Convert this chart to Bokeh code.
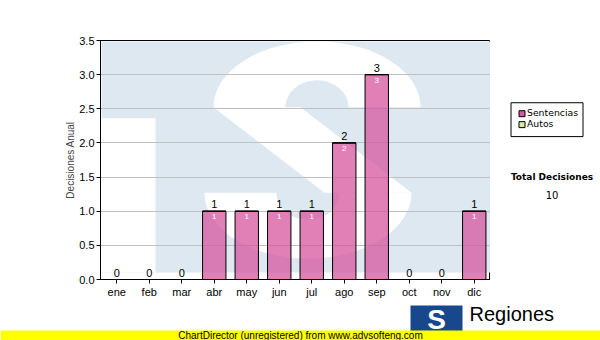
import numpy as np
from bokeh.plotting import figure
from bokeh.layouts import column, row
from bokeh.models import (FixedTicker, PrintfTickFormatter, ColumnDataSource, Range1d)
from bokeh.core.properties import value
from bokeh.embed import file_html
from bokeh.resources import INLINE

# ---- data ----
months = ["ene", "feb", "mar", "abr", "may", "jun", "jul", "ago", "sep", "oct", "nov", "dic"]
sentencias = [0, 0, 0, 1, 1, 1, 1, 2, 3, 0, 0, 1]
autos = [0, 0, 0, 0, 0, 0, 0, 0, 0, 0, 0, 0]
y_ticks = [0.0, 0.5, 1.0, 1.5, 2.0, 2.5, 3.0, 3.5]
series_names = ["Sentencias", "Autos"]
total_title = "Total Decisiones"
y_title = "Decisiones Anual"
footer = "ChartDirector (unregistered) from www.advsofteng.com"
brand = "Regiones"

ARIAL = "Liberation Sans"
VERD = "DejaVu Sans"
PINK = "#d6569f"
GREEN = "#d6eca4"
series_colors = [PINK, GREEN]

xs = list(range(len(months)))
totals = [s + a for s, a in zip(sentencias, autos)]
grand_total = sum(totals)

MAIN_H = 300
FR_TOP, FR_BOT = 40, 280
p = figure(width=490, height=MAIN_H, output_backend="svg", toolbar_location=None,
           x_range=(-0.5, len(months) - 0.5), y_range=(0, 3.5),
           min_border_left=100, min_border_right=0, min_border_top=FR_TOP,
           min_border_bottom=MAIN_H - FR_BOT, background_fill_color="white",
           border_fill_color="white")
p.outline_line_color = "black"
p.outline_line_width = 1

# ---- watermark logo (decoration, drawn under the grid) ----
YPX = 240 / 3.5
def dx(px):
    return (np.asarray(px, dtype=float) - 100) / 32.5 - 0.5
def dy(py):
    return (280 - np.asarray(py, dtype=float)) / YPX

WM_BLUE = "#dee8f1"
p.quad(left=[dx(101)], right=[dx(490)], top=[dy(41)], bottom=[dy(273)],
       fill_color=WM_BLUE, line_color=None, level="image")
p.quad(left=[dx(100)], right=[dx(155)], top=[dy(118)], bottom=[dy(273)],
       fill_color="white", line_color=None, level="image")
t1 = np.linspace(np.pi, 0, 48)
t2 = np.linspace(0, np.pi, 48)
arc_px = np.concatenate([316.5 + 103.5 * np.cos(t1), 316.5 + 31.5 * np.cos(t2)])
arc_py = np.concatenate([107 - 66 * np.sin(t1), 107 - 27 * np.sin(t2)])
spine_px = np.array([213, 300, 411, 324])
spine_py = np.array([107, 107, 193, 193])
shapes = [(arc_px, arc_py), (624 - arc_px, 300 - arc_py), (spine_px, spine_py)]
p.patches(xs=[list(dx(a)) for a, b in shapes], ys=[list(dy(b)) for a, b in shapes],
          fill_color="white", line_color=None, level="image")

# ---- bars ----
p.vbar(x=xs, top=sentencias, bottom=0, width=0.72, fill_color=PINK,
       fill_alpha=0.75, line_color="black", line_width=1)
p.vbar(x=xs, top=totals, bottom=sentencias, width=0.72, fill_color=GREEN,
       line_color="black", line_width=1)

# value labels
p.text(x=xs, y=totals, text=[str(v) for v in totals], text_align="center",
       text_baseline="bottom", y_offset=-3, text_font=value(ARIAL),
       text_font_size="11px", text_color="black")
inner = ColumnDataSource(dict(x=[x for x, v in zip(xs, sentencias) if v > 0],
                              y=[v for v in sentencias if v > 0],
                              t=[str(v) for v in sentencias if v > 0]))
p.text(x="x", y="y", text="t", source=inner, text_align="center",
       text_baseline="top", y_offset=3, text_font=value(ARIAL),
       text_font_size="8px", text_color="white")

# ---- axes / grid ----
p.xgrid.grid_line_color = None
p.ygrid.grid_line_color = "#c0c0c0"
p.ygrid.ticker = FixedTicker(ticks=y_ticks)

p.yaxis.ticker = FixedTicker(ticks=y_ticks)
p.yaxis.formatter = PrintfTickFormatter(format="%.1f")
p.xaxis.ticker = FixedTicker(ticks=xs)
p.xaxis.major_label_overrides = {i: m for i, m in enumerate(months)}
for ax in (p.xaxis, p.yaxis):
    ax.axis_line_color = "black"
    ax.major_tick_line_color = "black"
    ax.major_tick_out = 4
    ax.major_tick_in = 0
    ax.minor_tick_line_color = None
    ax.major_label_text_font = ARIAL
    ax.major_label_text_font_size = "11px"
    ax.major_label_text_color = "black"
p.yaxis.major_label_standoff = 2
p.xaxis.major_label_standoff = 2
p.yaxis.axis_label = y_title
p.yaxis.axis_label_text_font = ARIAL
p.yaxis.axis_label_text_font_size = "10px"
p.yaxis.axis_label_text_font_style = "normal"
p.yaxis.axis_label_standoff = 0

# ---- helper for the plain side / bottom panels (pixel-like coordinates) ----
def blank(width, height, x0, x1, y0, y1, top=0, bot=0):
    f = figure(width=width, height=height, output_backend="svg", toolbar_location=None,
               x_range=Range1d(x0, x1), y_range=Range1d(y1, y0),
               x_axis_location=None, y_axis_location=None,
               min_border=0, min_border_top=top, min_border_bottom=bot,
               background_fill_color="white", border_fill_color="white")
    f.outline_line_color = None
    f.xgrid.visible = False
    f.ygrid.visible = False
    return f

# ---- right side panel: legend box and total (frame aligned with main frame) ----
side = blank(110, MAIN_H, 490, 600, FR_TOP, FR_BOT, top=FR_TOP, bot=MAIN_H - FR_BOT)
side.quad(left=[510.5], right=[582.5], top=[102.5], bottom=[136.5],
          fill_color="white", line_color="black", line_width=1)
side.quad(left=[518.5, 518.5], right=[524.5, 524.5], top=[110.5, 121.5],
          bottom=[116.5, 127.5], fill_color=series_colors, line_color="black",
          line_width=1)
side.text(x=[526.5, 526.5], y=[112.5, 123.5], text=series_names, text_align="left",
          text_baseline="middle", text_font=value(VERD), text_font_size="9.3px",
          text_color="black")
side.text(x=[551.5], y=[177], text=[total_title], text_align="center",
          text_baseline="middle", text_font=value(VERD), text_font_size="9px",
          text_font_style="bold", text_color="black")
side.text(x=[551.5], y=[195], text=[str(grand_total)], text_align="center",
          text_baseline="middle", text_font=value(VERD), text_font_size="10px",
          text_color="black")

# ---- bottom strip: logo and footer band ----
bottom = blank(600, 340 - MAIN_H, 0, 600, MAIN_H, 340)
bottom.quad(left=[410], right=[462], top=[305], bottom=[333],
            fill_color="#17488c", line_color=None)
bottom.text(x=[436], y=[303], text=["S"], text_align="center", text_baseline="top",
            text_font=value(ARIAL), text_font_size="28px", text_font_style="bold",
            text_color="white")
bottom.text(x=[469], y=[302], text=[brand], text_align="left",
            text_baseline="top", text_font=value(ARIAL), text_font_size="20px",
            text_color="black")
bottom.quad(left=[0], right=[600], top=[330], bottom=[340],
            fill_color="#ffff00", line_color=None)
bottom.text(x=[300], y=[329], text=[footer], text_align="center",
            text_baseline="top", text_font=value(ARIAL), text_font_size="10px",
            text_color="black")

layout = column(row(p, side, spacing=0), bottom, spacing=0)
open("out.html", "w").write(file_html(layout, INLINE))
